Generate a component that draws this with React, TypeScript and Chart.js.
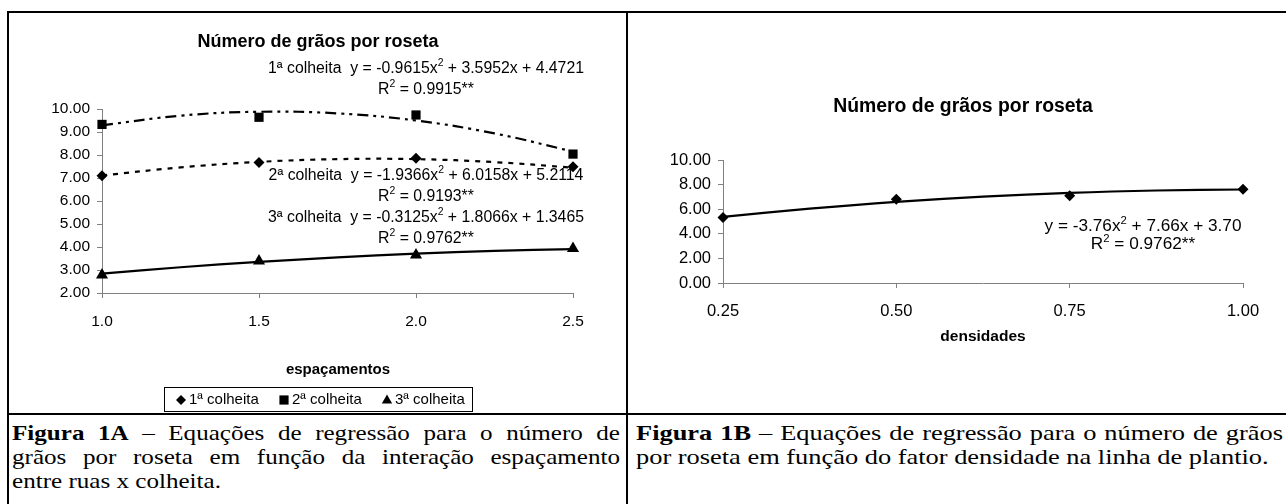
import React, { useEffect, useRef } from "react";
import { Chart, registerables } from "chart.js";

Chart.register(...registerables);

// ---------- Figura 1A data ----------
const espacamentos = [1.0, 1.5, 2.0, 2.5];
const colheita1 = [7.1, 7.67, 7.86, 7.49];
const colheita2 = [9.33, 9.64, 9.74, 8.04];
const colheita3 = [2.78, 3.39, 3.65, 3.94];
const trendXA = [1.0, 1.25, 1.5, 1.75, 2.0, 2.25, 2.5];
const trendColheita1 = [7.11, 7.46, 7.7, 7.82, 7.82, 7.69, 7.45];
const trendColheita2 = [9.29, 9.71, 9.88, 9.81, 9.5, 8.94, 8.15];
const trendColheita3 = [2.84, 3.12, 3.35, 3.55, 3.71, 3.83, 3.91];
const seriesA = ["1ª colheita", "2ª colheita", "3ª colheita"];
const equationsA = [
  { eq: ["1ª colheita  y = -0.9615x", "2", " + 3.5952x + 4.4721"], r2: " = 0.9915**" },
  { eq: ["2ª colheita  y = -1.9366x", "2", " + 6.0158x + 5.2114"], r2: " = 0.9193**" },
  { eq: ["3ª colheita  y = -0.3125x", "2", " + 1.8066x + 1.3465"], r2: " = 0.9762**" },
];

// ---------- Figura 1B data ----------
const densidades = [0.25, 0.5, 0.75, 1.0];
const graosB = [5.32, 6.81, 7.1, 7.62];
const trendXB = [0.25, 0.375, 0.5, 0.625, 0.75, 0.875, 1.0];
const trendB = [5.38, 6.04, 6.59, 7.02, 7.33, 7.52, 7.6];
const equationB = { eq: ["y = -3.76x", "2", " + 7.66x + 3.70"], r2: " = 0.9762**" };

const chartTitle = "Número de grãos por roseta";
const FONT = '"Liberation Sans", Arial, sans-serif';
const AXIS = "#808080";

type Part = { t: string; sup?: boolean };

function drawRich(ctx: CanvasRenderingContext2D, parts: Part[], cx: number, cy: number, size: number) {
  const supSize = size * 0.66;
  const widths = parts.map((p) => {
    ctx.font = `${p.sup ? supSize : size}px ${FONT}`;
    return ctx.measureText(p.t).width;
  });
  const total = widths.reduce((a, b) => a + b, 0);
  let x = cx - total / 2;
  const base = cy + size * 0.36;
  ctx.textAlign = "left";
  ctx.textBaseline = "alphabetic";
  ctx.fillStyle = "#000";
  parts.forEach((p, i) => {
    ctx.font = `${p.sup ? supSize : size}px ${FONT}`;
    ctx.fillText(p.t, x, p.sup ? base - size * 0.42 : base);
    x += widths[i];
  });
}

function eqParts(e: string[]): Part[] {
  return [{ t: e[0] }, { t: e[1], sup: true }, { t: e[2] }];
}
function r2Parts(r: string): Part[] {
  return [{ t: "R" }, { t: "2", sup: true }, { t: r }];
}

function drawCentered(ctx: CanvasRenderingContext2D, text: string, cx: number, cy: number, font: string) {
  ctx.font = font;
  ctx.fillStyle = "#000";
  ctx.textAlign = "center";
  ctx.textBaseline = "middle";
  ctx.fillText(text, cx, cy);
}

function drawMarker(ctx: CanvasRenderingContext2D, style: string, x: number, y: number, r: number) {
  ctx.beginPath();
  if (style === "rectRot") {
    ctx.moveTo(x, y - r);
    ctx.lineTo(x + r, y);
    ctx.lineTo(x, y + r);
    ctx.lineTo(x - r, y);
  } else if (style === "rect") {
    const h = r * Math.SQRT1_2;
    ctx.rect(x - h, y - h, 2 * h, 2 * h);
  } else {
    const h = r * 1.5;
    ctx.moveTo(x, y - h * 0.6);
    ctx.lineTo(x + r * 0.86, y + h * 0.4);
    ctx.lineTo(x - r * 0.86, y + h * 0.4);
  }
  ctx.closePath();
  ctx.fillStyle = "#000";
  ctx.fill();
}

const pts = (xs: number[], ys: number[]) => xs.map((x, i) => ({ x, y: ys[i] }));

const pointSet = (label: string, data: any[], style: string, r: number) => ({
  label,
  data,
  showLine: false,
  pointStyle: style,
  pointRadius: r,
  pointHoverRadius: r,
  backgroundColor: "#000",
  borderColor: "#000",
  borderWidth: 0,
  clip: false,
  order: 0,
});

const trendSet = (label: string, data: any[], dash: number[]) => ({
  label,
  data,
  showLine: true,
  pointRadius: 0,
  borderColor: "#000",
  borderWidth: 2.2,
  borderDash: dash,
  tension: 0.4,
  fill: false,
  clip: false,
  order: 1,
});

function axisOpts(min: number, max: number, step: number, digits: number, size: number, pad: number, fit: (s: any) => void) {
  return {
    type: "linear",
    min,
    max,
    clip: false,
    afterFit: fit,
    ticks: {
      stepSize: step,
      callback: (v: any) => Number(v).toFixed(digits),
      font: { family: FONT, size },
      color: "#000",
      padding: pad,
    },
    grid: { drawOnChartArea: false, drawTicks: true, tickLength: 5, color: AXIS, lineWidth: 1 },
    border: { display: true, color: AXIS, width: 1 },
  };
}

const seriesStylesA = ["rectRot", "rect", "triangle"];

function configA(): any {
  const textPlugin = {
    id: "textA",
    afterDraw(chart: any) {
      const ctx = chart.ctx as CanvasRenderingContext2D;
      ctx.save();
      drawCentered(ctx, chartTitle, 309, 29, `bold 18px ${FONT}`);
      const eqY = [54, 161, 203];
      equationsA.forEach((e, i) => {
        drawRich(ctx, eqParts(e.eq), 417, eqY[i], 15.8);
        drawRich(ctx, r2Parts(e.r2), 417, eqY[i] + 21, 15.8);
      });
      drawCentered(ctx, "espaçamentos", 329, 357, `bold 15px ${FONT}`);
      // legend
      const bx = 155, by = 374, bw = 308, bh = 24;
      ctx.strokeStyle = "#000";
      ctx.lineWidth = 1;
      ctx.strokeRect(bx + 0.5, by + 0.5, bw, bh);
      const starts = [167, 270, 373];
      const radii = [5, 6.5, 6];
      seriesA.forEach((name, i) => {
        drawMarker(ctx, seriesStylesA[i], starts[i] + 5, by + bh / 2 + 1, radii[i]);
        ctx.font = `15px ${FONT}`;
        ctx.textAlign = "left";
        ctx.textBaseline = "middle";
        ctx.fillStyle = "#000";
        ctx.fillText(name, starts[i] + 13, by + bh / 2 + 1);
      });
      ctx.restore();
    },
  };
  return {
    type: "scatter",
    data: {
      datasets: [
        pointSet(seriesA[0], pts(espacamentos, colheita1), "rectRot", 5.5),
        pointSet(seriesA[1], pts(espacamentos, colheita2), "rect", 6.5),
        pointSet(seriesA[2], pts(espacamentos, colheita3), "triangle", 7),
        trendSet("tend1", pts(trendXA, trendColheita1), [5, 6]),
        trendSet("tend2", pts(trendXA, trendColheita2), [11, 5, 3, 5, 3, 5]),
        trendSet("tend3", pts(trendXA, trendColheita3), []),
      ],
    },
    options: {
      animation: false,
      responsive: false,
      events: [],
      layout: { padding: { left: 13, top: 96, right: 53, bottom: 79 } },
      plugins: { legend: { display: false }, tooltip: { enabled: false }, title: { display: false } },
      scales: {
        x: axisOpts(1, 2.5, 0.5, 1, 15.5, 14, (s: any) => { s.height = 40; }),
        y: axisOpts(2, 10, 1, 2, 15.5, 7, (s: any) => { s.width = 80; }),
      },
    },
    plugins: [textPlugin],
  };
}

function configB(): any {
  const textPlugin = {
    id: "textB",
    afterDraw(chart: any) {
      const ctx = chart.ctx as CanvasRenderingContext2D;
      ctx.save();
      drawCentered(ctx, chartTitle, 335, 94, `bold 19.4px ${FONT}`);
      drawRich(ctx, eqParts(equationB.eq), 515, 212, 17.2);
      drawRich(ctx, r2Parts(equationB.r2), 515, 230, 17.2);
      drawCentered(ctx, "densidades", 355, 324, `bold 15.5px ${FONT}`);
      ctx.restore();
    },
  };
  return {
    type: "scatter",
    data: {
      datasets: [
        pointSet("densidade", pts(densidades, graosB), "rectRot", 5.5),
        trendSet("tendB", pts(trendXB, trendB), []),
      ],
    },
    options: {
      animation: false,
      responsive: false,
      events: [],
      layout: { padding: { left: 15, top: 147, right: 43, bottom: 89 } },
      plugins: { legend: { display: false }, tooltip: { enabled: false }, title: { display: false } },
      scales: {
        x: axisOpts(0.25, 1, 0.25, 2, 16.5, 14, (s: any) => { s.height = 40; }),
        y: axisOpts(0, 10, 2, 2, 16.5, 7, (s: any) => { s.width = 80; }),
      },
    },
    plugins: [textPlugin],
  };
}

function ChartBox({ make, left, top, width, height }: any) {
  const ref = useRef<HTMLCanvasElement>(null);
  useEffect(() => {
    const chart = new Chart(ref.current as HTMLCanvasElement, make());
    return () => chart.destroy();
  }, []);
  return (
    <canvas
      ref={ref}
      width={width}
      height={height}
      style={{ position: "absolute", left, top, width, height }}
    />
  );
}

const captionA = [
  { b: "Figura 1A", t: " – Equações de regressão para o número de", j: true },
  { b: "", t: "grãos por roseta em função da interação espaçamento", j: true },
  { b: "", t: "entre ruas x colheita.", j: false },
];
const captionB = [
  { b: "Figura 1B", t: " – Equações de regressão para o número de grãos", j: true },
  { b: "", t: "por roseta em função do fator densidade na linha de plantio.", j: false },
];

function Caption({ lines, left, width, k }: any) {
  return (
    <div style={{ position: "absolute", left, top: 421, width }}>
      {lines.map((l: any, i: number) => (
        <div
          key={i}
          style={{
            width: width / k,
            transform: `scaleX(${k})`,
            transformOrigin: "left top",
            fontFamily: '"Liberation Serif", "Times New Roman", serif',
            fontSize: 22,
            lineHeight: "24px",
            height: 24,
            whiteSpace: "nowrap",
            textAlign: l.j ? "justify" : "left",
            textAlignLast: l.j ? "justify" : "left",
            color: "#000",
          } as any}
        >
          {l.b && <b>{l.b}</b>}
          {l.t}
        </div>
      ))}
    </div>
  );
}

export default function App() {
  const line = (l: number, t: number, w: number, h: number) => (
    <div style={{ position: "absolute", left: l, top: t, width: w, height: h, background: "#000" }} />
  );
  return (
    <div style={{ position: "absolute", left: 0, top: 0, width: 1286, height: 504, overflow: "hidden", background: "#fff" }}>
      <ChartBox make={configA} left={9} top={13} width={617} height={399} />
      <ChartBox make={configB} left={628} top={13} width={658} height={399} />
      {line(7, 11, 1290, 2)}
      {line(7, 11, 2, 500)}
      {line(626, 11, 2, 500)}
      {line(7, 413, 1290, 2)}
      <Caption lines={captionA} left={12} width={608} k={1.14} />
      <Caption lines={captionB} left={636} width={647} k={1.2} />
    </div>
  );
}
